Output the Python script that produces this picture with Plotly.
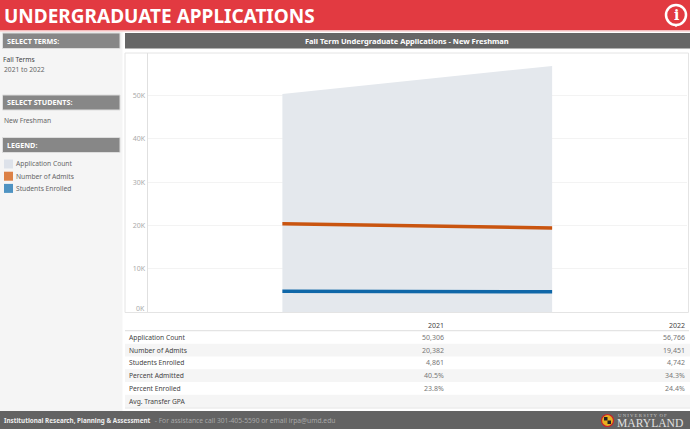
import plotly.graph_objects as go

W, H = 690, 429
years = [2021, 2022]
application_count = [50306, 56766]
number_of_admits = [20382, 19451]
students_enrolled = [4861, 4742]
percent_admitted = ["40.5%", "34.3%"]
percent_enrolled = ["23.8%", "24.4%"]
avg_transfer_gpa = ["", ""]
y_tick_vals = [0, 10000, 20000, 30000, 40000, 50000]
y_tick_text = ["", "10K", "20K", "30K", "40K", "50K"]
row_labels = ["Application Count", "Number of Admits", "Students Enrolled",
              "Percent Admitted", "Percent Enrolled", "Avg. Transfer GPA"]
legend_labels = ["Application Count", "Number of Admits", "Students Enrolled"]
legend_colors = ["#dde2ea", "#dc8146", "#4e93c2"]

FONT = "Noto Sans"
PL, PR, PT, PB = 147.5, 687, 53, 312.3

def X(p): return p / W
def Y(p): return 1 - p / H

shapes, ann = [], []

def rect(x0, y0, x1, y1, fill, line=None, layer="below", lw=1):
    shapes.append(dict(type="rect", xref="paper", yref="paper", x0=X(x0), x1=X(x1),
                       y0=Y(y0), y1=Y(y1), fillcolor=fill, layer=layer,
                       line=dict(color=line or fill, width=lw if line else 0)))

def text(x, y, s, size=8, color="#666", anchor="left", bold=False, family=FONT):
    ann.append(dict(xref="paper", yref="paper", x=X(x), y=Y(y), text=f"<b>{s}</b>" if bold else s,
                    showarrow=False, xanchor=anchor, yanchor="middle",
                    font=dict(size=size, color=color, family=family), borderpad=0, borderwidth=0))

# chrome
rect(0, 0, W, 30.5, "#e23a41")
rect(0, 30.5, W, 32, "#f9dcdc")
rect(0, 32, 122.5, 411, "#f5f5f5")
rect(125, 53, 688.5, 312.5, "#ffffff", "#e4e4e4")
for (y0, y1, label) in [(33, 48.5, "SELECT TERMS:"), (95, 110, "SELECT STUDENTS:"), (137.5, 152.5, "LEGEND:")]:
    rect(2.5, y0, 120, y1, "#878787", "#dddddd")
    text(6.5, (y0 + y1) / 2, label, size=7.2, color="#ffffff", bold=True)
rect(125, 33, 690, 48.5, "#666666")
text(407, 41, "Fall Term Undergraduate Applications - New Freshman", size=7.5, color="#ffffff", anchor="center", bold=True)
text(4, 15.5, "UNDERGRADUATE APPLICATIONS", size=19, color="#ffffff", bold=True)

# info icon (pin shape)
shapes.append(dict(type="path", xref="paper", yref="paper",
                   path=f"M {X(672)} {Y(24)} L {X(680)} {Y(24)} L {X(676)} {Y(27)} Z",
                   fillcolor="#ffffff", line=dict(color="#ffffff", width=0)))
shapes.append(dict(type="circle", xref="paper", yref="paper", x0=X(666), x1=X(686), y0=Y(5), y1=Y(25),
                   fillcolor="#e23a41", line=dict(color="#ffffff", width=2.5)))
text(676, 15, "i", size=14, color="#ffffff", anchor="center", bold=True, family="DejaVu Serif")

# sidebar text
text(3, 59, "Fall Terms", size=6.7, color="#444")
text(4, 69, "2021 to 2022", size=6.7, color="#666")
text(3.5, 120, "New Freshman", size=6.7, color="#666")
for i, (lab, col) in enumerate(zip(legend_labels, legend_colors)):
    yc = 164 + i * 12.2
    rect(4, yc - 4.5, 13, yc + 4.5, col)
    text(16, yc, lab, size=6.7, color="#666")

text(145, 308, "0K", size=7, color="#aaaaaa", anchor="right")

# table
row_h = 12.75
top = 331
rect(125, 330, 689, 331.3, "#e4e4e4")
text(444, 325, str(years[0]), size=7, color="#444", anchor="right")
text(685, 325, str(years[1]), size=7, color="#444", anchor="right")
rows = [[f"{v:,}" for v in application_count], [f"{v:,}" for v in number_of_admits],
        [f"{v:,}" for v in students_enrolled], percent_admitted, percent_enrolled, avg_transfer_gpa]
for i, (lab, vals) in enumerate(zip(row_labels, rows)):
    y0 = top + i * row_h
    if i % 2:
        rect(125, y0, 690, y0 + row_h, "#f5f5f5")
    yc = y0 + row_h / 2
    text(129, yc, lab, size=6.7, color="#444")
    if vals[0]:
        text(443.5, yc, vals[0], size=7, color="#777", anchor="right")
        text(684.5, yc, vals[1], size=7, color="#777", anchor="right")
rect(125, 407.5, 690, 408.5, "#e4e4e4")

# footer
rect(0, 411, W, H, "#636363")
text(3.5, 420.5, "Institutional Research, Planning &amp; Assessment", size=6.3, color="#eeeeee", bold=True)
text(152.5, 420.5, " - For assistance call 301-405-5590 or email irpa@umd.edu", size=6.7, color="#a8a8a8")

# university mark
shapes.append(dict(type="circle", xref="paper", yref="paper", x0=X(601.5), x1=X(613.5), y0=Y(414.5), y1=Y(426.5),
                   fillcolor="#e8b020", line=dict(color="#c8202a", width=1.2), layer="above"))
rect(604, 417, 607.5, 420.5, "#222222", layer="above")
rect(607.5, 420.5, 611, 424, "#222222", layer="above")
text(618, 415.5, "U N I V E R S I T Y&nbsp;&nbsp;O F", size=4.8, color="#c8c8c8", family="Liberation Serif")
text(617, 423, "MARYLAND", size=11.6, color="#e0e0e0", family="Liberation Serif")

fig = go.Figure()
fig.add_trace(go.Scatter(x=years, y=application_count, mode="lines", line=dict(width=0),
                         fill="tozeroy", fillcolor="#e4e8ed", name="Application Count", hoverinfo="skip"))
fig.add_trace(go.Scatter(x=years, y=number_of_admits, mode="lines",
                         line=dict(color="#c9540f", width=3.5), name="Number of Admits"))
fig.add_trace(go.Scatter(x=years, y=students_enrolled, mode="lines",
                         line=dict(color="#0f67a8", width=3.5), name="Students Enrolled"))

fig.update_layout(
    width=W, height=H, autosize=False, margin=dict(l=0, r=0, t=0, b=0),
    paper_bgcolor="#ffffff", plot_bgcolor="rgba(0,0,0,0)", showlegend=False,
    font=dict(family=FONT), shapes=shapes, annotations=ann,
    xaxis=dict(domain=[X(PL), X(PR)], range=[2020.5, 2022.5], showgrid=False, zeroline=False,
               showticklabels=False, showline=False, fixedrange=True),
    yaxis=dict(domain=[Y(PB), Y(PT)], range=[0, (PB - PT) / 43.4 * 10000], tickvals=y_tick_vals,
               ticktext=y_tick_text, tickfont=dict(size=7, color="#aaaaaa", family=FONT),
               gridcolor="#f3f3f3", gridwidth=1, zeroline=False, showline=True, linecolor="#e0e0e0",
               linewidth=1, ticks="", fixedrange=True),
)
fig.write_html("out.html", config=dict(displayModeBar=False),
               post_script="document.body.style.margin='0';document.body.style.overflow='hidden';")
